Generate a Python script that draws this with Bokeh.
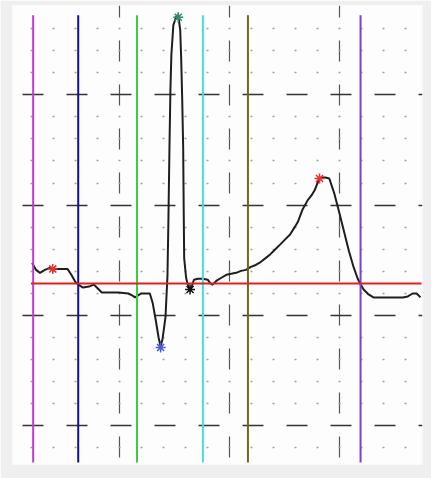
from bokeh.plotting import figure
from bokeh.models import Range1d, FixedTicker
from bokeh.embed import file_html
from bokeh.resources import INLINE

# traced beat: time (s) and amplitude (mV)
t = [0.0411, 0.0482, 0.0554, 0.0643, 0.0732, 0.0839, 0.0946, 0.1054, 0.1125, 0.1196,
     0.1250, 0.1339, 0.1446, 0.1536, 0.1607, 0.1679, 0.1804, 0.1982, 0.2161, 0.2232,
     0.2286, 0.2339, 0.2393, 0.2554, 0.2607, 0.2661, 0.2714, 0.2750, 0.2786, 0.2839,
     0.2875, 0.2893, 0.2911, 0.2929, 0.2946, 0.2982, 0.3036, 0.3071, 0.3107, 0.3125,
     0.3143, 0.3161, 0.3170, 0.3179, 0.3214, 0.3250, 0.3286, 0.3321, 0.3357, 0.3429,
     0.3518, 0.3607, 0.3661, 0.3696, 0.3768, 0.3857, 0.3946, 0.4036, 0.4125, 0.4214,
     0.4304, 0.4393, 0.4482, 0.4571, 0.4661, 0.4750, 0.4839, 0.4929, 0.5018, 0.5107,
     0.5196, 0.5250, 0.5304, 0.5339, 0.5429, 0.5500, 0.5554, 0.5625, 0.5679, 0.5750,
     0.5821, 0.5875, 0.5911, 0.6000, 0.6089, 0.6179, 0.6268, 0.6339, 0.6393, 0.6446,
     0.6536, 0.6625, 0.6804, 0.6982, 0.7161, 0.7250, 0.7339, 0.7411, 0.7482]
v = [0.2366, 0.2054, 0.1920, 0.2054, 0.2143, 0.2098, 0.2098, 0.2098, 0.1830, 0.1518,
     0.1384, 0.1250, 0.1295, 0.1384, 0.1205, 0.1027, 0.1027, 0.1027, 0.0982, 0.0893,
     0.0804, 0.0893, 0.0982, 0.0982, 0.0536, -0.0223, -0.1027, -0.1429, -0.1071, -0.0089,
     0.1786, 0.4464, 0.7589, 1.0268, 1.1830, 1.3170, 1.3571, 1.3616, 1.2946, 1.1607,
     0.9821, 0.7589, 0.4911, 0.2589, 0.1696, 0.1339, 0.1161, 0.1339, 0.1607, 0.1652,
     0.1652, 0.1607, 0.1429, 0.1384, 0.1563, 0.1696, 0.1830, 0.1875, 0.1920, 0.2009,
     0.2054, 0.2188, 0.2277, 0.2411, 0.2589, 0.2768, 0.2991, 0.3214, 0.3438, 0.3661,
     0.4018, 0.4241, 0.4598, 0.4821, 0.5223, 0.5446, 0.5670, 0.6116, 0.6250, 0.6250,
     0.6205, 0.5804, 0.5536, 0.4688, 0.3795, 0.2902, 0.2143, 0.1652, 0.1384, 0.1161,
     0.0938, 0.0804, 0.0804, 0.0804, 0.0804, 0.0848, 0.0982, 0.0982, 0.0804]

# detected fiducial points
marker_t = [0.0786, 0.3071, 0.2750, 0.3286, 0.5643]
marker_v = [0.2098, 1.3527, -0.1473, 0.1161, 0.6205]
marker_colors = ["#e8302f", "#2f8a68", "#4a5ad8", "#111111", "#e8302f"]

# wave boundaries
boundary_t = [0.043, 0.125, 0.232, 0.352, 0.434, 0.639]
boundary_colors = ["#c03ccc", "#10109a", "#3ccc3c", "#44dede", "#6a6a1a", "#7a40d0"]
boundary_low = -0.670
boundary_high = 1.362

# isoelectric baseline
baseline_v = 0.143
baseline_t = [0.039, 0.750]

# grid ticks
x_major = [0.2, 0.4, 0.6]
y_major = [-0.5, 0.0, 0.5, 1.0]
y_minor = [-0.6, -0.4, -0.3, -0.2, -0.1, 0.1, 0.2, 0.3, 0.4, 0.6, 0.7, 0.8, 0.9,
           1.1, 1.2, 1.3]

p = figure(width=431, height=478, output_backend="svg", toolbar_location=None,
           x_range=Range1d(0.005357, 0.751786), y_range=Range1d(-0.678571, 1.40625),
           min_border_left=12, min_border_right=9, min_border_top=5, min_border_bottom=14)
p.border_fill_color = "#efefef"
p.background_fill_color = "#fdfdfd"
p.outline_line_color = None
p.xaxis.visible = False
p.yaxis.visible = False

p.xgrid.ticker = FixedTicker(ticks=x_major, minor_ticks=[])
p.ygrid.ticker = FixedTicker(ticks=y_major, minor_ticks=y_minor)
p.xgrid.grid_line_color = "#555555"
p.xgrid.grid_line_width = 1.2
p.xgrid.grid_line_dash = "21 23"
p.xgrid.grid_line_dash_offset = 37
p.ygrid.grid_line_color = "#333333"
p.ygrid.grid_line_width = 1.4
p.ygrid.grid_line_dash = "21 23"
p.ygrid.grid_line_dash_offset = 34
p.ygrid.minor_grid_line_color = "#a0a0a0"
p.ygrid.minor_grid_line_width = 1.5
p.ygrid.minor_grid_line_dash = "2 20"
p.ygrid.minor_grid_line_dash_offset = 4

p.line(t, v, line_color="#1e1e1e", line_width=2)

p.segment(x0=boundary_t, y0=[boundary_low] * len(boundary_t),
          x1=boundary_t, y1=[boundary_high] * len(boundary_t),
          line_color=boundary_colors, line_width=2)

p.line(baseline_t, [baseline_v, baseline_v], line_color="#e02020", line_width=2)

p.scatter(marker_t, marker_v, marker="asterisk", size=10,
          line_color=marker_colors, line_width=1.5)

open("out.html", "w").write(file_html(p, INLINE))
